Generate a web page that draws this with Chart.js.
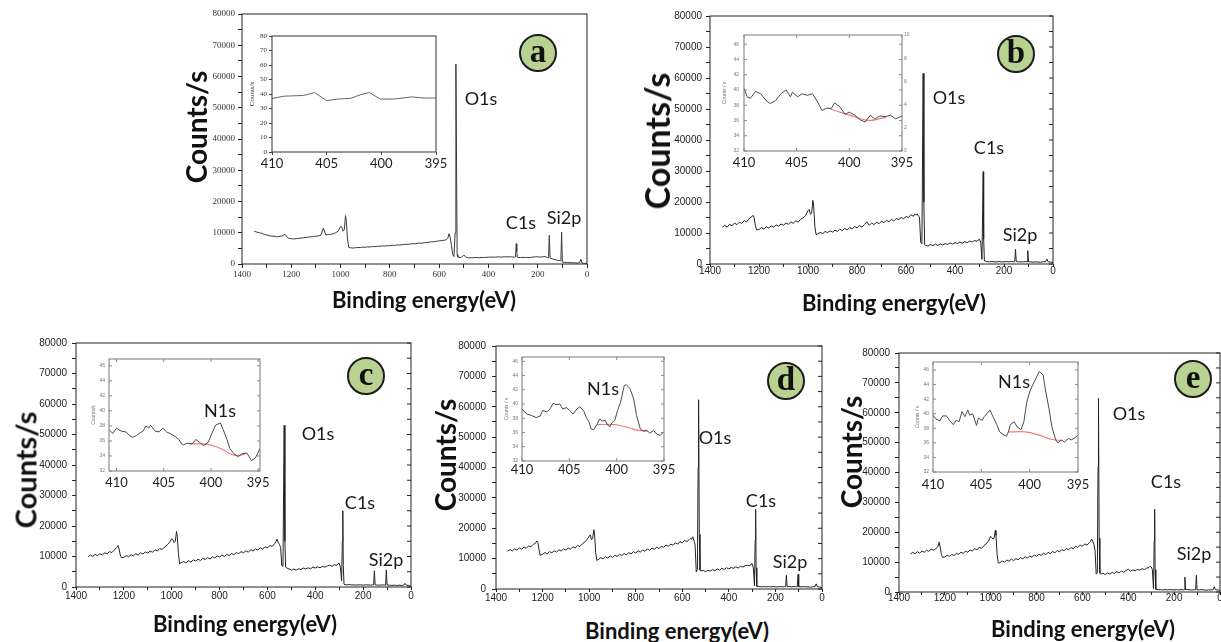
<!DOCTYPE html>
<html><head><meta charset="utf-8">
<script src="https://cdn.jsdelivr.net/npm/chart.js@4.4.1/dist/chart.umd.min.js"></script>
<style>
html,body{margin:0;padding:0;background:#fff;}
#stage{position:relative;width:1221px;height:642px;overflow:hidden;background:#fff;}
canvas{position:absolute;}
.t{position:absolute;transform:translate(-50%,-50%);white-space:nowrap;font-family:Lato,'Open Sans',sans-serif;color:#111;line-height:1;}
.yt{font-weight:700;transform:translate(-50%,-50%) rotate(-90deg);}
.xt{font-weight:700;}
.pk{font-size:18px;color:#1a1a1a;}
.badge{position:absolute;width:34px;height:34px;border-radius:50%;background:#b9d191;border:2px solid #1c1c1c;transform:translate(-50%,-50%);display:flex;align-items:center;justify-content:center;font-family:'Liberation Serif','DejaVu Serif',serif;font-weight:700;font-size:33px;line-height:1;color:#111;}
.badge span{display:block;margin-top:-4px;}
</style></head><body><div id="stage"></div>
<script>
// ---------- shared binding-energy grid (eV) ----------
const energy = [1350,1340,1330,1320,1310,1300,1290,1280,1270,1260,1250,1240,
1230,1225,1220,1215,1210,
1200,1190,1180,1170,1160,1150,1140,1130,1120,1110,1100,1090,1080,1070,1060,1050,1040,1030,1020,1010,1000,
995,990,985,980,977,972,967,
960,950,940,930,920,910,900,890,880,870,860,850,840,830,820,810,800,790,780,770,760,750,740,730,720,710,700,690,680,670,660,650,640,630,620,610,600,590,580,570,
565,560,555,550,545,540,535,532,530,527,524,520,
510,500,490,480,470,460,450,440,430,420,410,400,390,380,370,360,350,340,330,320,310,
305,300,295,290,287,285,283,280,
270,260,250,240,230,220,210,200,190,180,170,160,
156,153,150,
140,130,120,110,
106,103,100,
90,80,70,60,50,40,30,
25,20,10,0];

const countsA = [10500,10200,10000,9800,9500,9300,9100,8900,8900,8700,8800,8900,
9300,9500,9000,8500,8200,
8100,8000,8100,8200,8300,8400,8500,8600,8700,8800,8900,9000,9200,11500,9300,9400,9500,9700,10000,10500,12000,
11800,10500,11000,15500,14000,8000,5300,
5200,5100,5200,5300,5250,5400,5350,5500,5450,5600,5550,5700,5650,5800,5750,5900,5850,6000,5950,6100,6050,6200,6300,6250,6400,6500,6450,6600,6700,6650,6800,6900,7000,7100,7150,7300,7400,7500,7600,7800,
8200,9700,8500,6000,3000,2400,10000,64000,40000,3000,2200,2100,
2100,2900,2100,2000,2000,2000,2100,2000,2100,2100,2100,2200,2200,2200,2200,2300,2200,2300,2300,2300,2300,
2300,2200,2200,2300,6500,4000,2200,2100,
2100,2100,2100,2100,2100,2200,2300,2300,2200,2300,2400,2000,
2000,9200,2000,
1600,1400,1200,1100,
1000,10200,600,
500,500,400,400,400,300,400,
1500,300,200,200];

const countsB = [11800,12500,11900,12800,12300,13200,12700,13500,13100,14000,13600,14700,
15200,15700,15000,12500,11000,
11100,11700,11300,12000,11600,12300,11900,12600,12200,12900,12500,13200,12800,13600,13100,14000,13500,14400,14900,15600,17200,
17600,16000,16500,20500,19000,12000,9500,
9700,10200,9800,10500,10100,10700,10300,10900,10500,11200,10800,11500,11000,11800,11300,12100,11600,12400,11900,12700,13600,12500,13200,12700,13500,13000,13800,13300,14100,13600,14400,13900,14700,14300,15000,14600,15300,15000,15900,15400,
16100,15800,16200,15500,15200,7000,6500,40000,61500,20000,6200,6000,
5800,6300,5900,6400,6000,6500,6100,6600,6300,6800,6400,6900,6600,7100,6700,7200,6900,7400,7100,7600,7300,
7800,8000,7000,1500,18000,29800,8000,1000,
800,700,800,700,700,800,700,700,800,700,800,700,
800,4700,800,
700,700,700,800,
700,4300,700,
700,600,700,600,600,700,800,
1600,700,600,500];

const countsC = [9900,10500,10000,10700,10300,10900,10500,11200,10900,11600,11300,12100,
13000,13600,12500,10500,9600,
9700,10300,9900,10600,10200,10900,10500,11200,10800,11500,11100,11800,11400,12200,11800,12600,12300,13100,13700,14500,15800,
15500,14600,15000,18200,17000,11000,7600,
8000,8300,7900,8600,8200,8900,8500,9100,8700,9400,9000,9600,9200,9900,9500,10200,9800,10500,10000,10700,10300,11000,10600,11300,10900,11600,11200,11900,11400,12200,11800,12500,12100,12800,12400,13200,12800,13600,13300,14200,
14800,15700,14600,14000,13000,7000,6800,35000,53000,15000,6500,6300,
5900,5500,5900,5500,6000,5700,6200,5900,6300,6000,6500,6200,6600,6300,6800,6500,6900,7100,6800,7300,7100,
7700,7800,6500,2000,15000,25000,7000,900,
700,800,700,700,600,700,700,600,700,700,600,700,
700,5300,700,
600,600,700,600,
600,5600,600,
600,500,600,500,600,500,600,
1200,600,500,300];

const countsD = [12400,13000,12500,13200,12800,13500,13100,13800,13400,14200,13900,14700,
15100,15800,15300,12800,11100,
11400,12000,11600,12300,11900,12600,12200,12900,12500,13200,12800,13500,13100,13900,13500,14300,14000,14800,15400,16200,17300,
17800,16200,16600,19500,18500,12000,9400,
9700,10300,9900,10600,10200,10900,10400,11100,10700,11400,11000,11700,11200,12000,11500,12300,11800,12600,12100,12900,12400,13200,12700,13500,13000,13800,13300,14100,13700,14500,14000,14800,14400,15200,14800,15600,15200,16000,15600,16300,
16700,16400,17200,16000,14500,5600,6500,40000,62300,18000,6200,6000,
6100,5700,6200,5900,6400,6000,6600,6200,6800,6400,7000,6600,7100,6800,7300,6900,7500,7200,7700,7800,7600,
8200,8300,7000,1000,16000,26200,7000,900,
800,700,800,700,800,700,800,700,700,800,700,800,
800,4500,800,
800,700,800,700,
800,4800,700,
700,800,700,700,600,700,800,
1700,800,600,500];

const countsE = [12700,13300,12800,13500,13000,13700,13300,14000,13600,14300,14000,14500,
15200,16700,14800,12600,11600,
11700,12300,11900,12600,12200,12900,12600,13300,12900,13700,13300,14100,13700,14500,14100,15000,14600,15500,16100,17000,18600,
18200,17700,18000,20600,19000,12500,9700,
9800,10400,10000,10700,10300,11000,10500,11200,10800,11500,11100,11800,11300,12100,11600,12400,11900,12700,12200,13000,12500,13300,12800,13600,13100,13900,13400,14200,13800,14600,14100,14900,14500,15300,14900,15700,15300,16100,15700,16500,
16900,17700,17000,16000,14000,6000,6500,42000,64800,18000,6300,6000,
6300,5800,6400,6000,6600,6200,6800,6400,7000,6600,7200,7600,7000,7400,7100,7600,7300,7800,7500,8000,8200,
8600,8400,7500,1000,17000,27700,7500,900,
800,800,700,800,700,800,800,700,800,700,800,700,
800,5000,800,
800,700,700,800,
700,5600,700,
700,800,700,600,700,700,800,
1800,800,700,600];

// ---------- N1s region insets ----------
const insetXTicks = [410,405,400,395];
const insetATicks = [0,10,20,30,40,50,60,70,80];
const insetNTicks = [32,34,36,38,40,42,44,46];
const insetBRightTicks = [0,2,4,6,8,10];

const insetAX = [410,408.9,407.1,406.1,405.0,404.0,402.8,401.9,401.1,400.1,398.9,397.2,396.1,395.0];
const insetAY = [36.9,38.5,39.0,41.0,35.4,36.5,37.0,39.5,41.0,36.5,36.5,38.0,37.2,37.2];

const insetBX = [410.0,409.7,409.4,408.9,408.4,407.9,407.5,407.0,406.5,406.0,405.6,405.4,404.9,404.5,404.0,403.5,403.0,402.6,402.2,401.7,401.4,400.9,400.4,400.0,399.5,399.0,398.5,398.0,397.6,397.1,396.6,396.1,395.6,395.0];
const insetBY = [40.2,39.1,38.9,39.8,39.5,38.6,38.2,38.6,39.5,40.0,39.1,39.7,39.1,39.5,39.3,39.5,38.4,37.3,37.6,37.6,38.3,37.8,36.8,37.1,36.7,36.1,35.8,36.7,36.2,36.6,36.5,36.7,36.2,36.6];
const baseBX = [402.0,400.7,399.5,398.2,396.9,396.5];
const baseBY = [37.6,37.0,36.5,36.0,36.3,36.4];

const insetCX = [410.8,410.4,410.0,409.5,409.0,408.6,408.3,407.9,407.6,407.2,406.9,406.6,406.4,405.9,405.5,405.1,404.7,404.2,403.7,403.4,403.1,402.9,402.5,402.0,401.6,401.2,400.8,400.3,399.9,399.5,399.0,398.7,398.3,398.0,397.5,397.1,396.7,396.2,395.7,395.3,394.8];
const insetCY = [37.5,37.0,37.7,37.3,37.2,36.7,36.5,36.7,37.0,37.3,38.0,37.7,38.1,37.3,37.2,37.7,37.2,36.9,36.5,36.2,35.6,35.5,35.7,35.6,36.2,35.8,35.4,35.8,37.0,38.1,38.4,37.5,36.2,35.0,34.2,33.9,34.3,34.4,33.4,33.7,35.0];
const baseCX = [402.3,400.9,399.9,398.8,397.8,396.9,396.3];
const baseCY = [35.6,35.6,35.4,34.9,34.2,34.1,34.3];

const insetDX = [410.0,409.5,409.0,408.5,408.1,407.8,407.4,407.1,406.7,406.4,406.0,405.7,405.3,405.0,404.6,404.2,403.9,403.5,403.2,402.9,402.7,402.4,402.1,401.8,401.5,401.2,401.0,400.7,400.5,400.2,399.9,399.6,399.2,399.0,398.6,398.2,397.9,397.5,397.2,396.8,396.5,396.1,395.8,395.4,395.0];
const insetDY = [39.3,38.6,38.4,38.1,38.3,39.1,38.9,39.2,40.1,39.9,40.0,39.3,39.5,39.1,38.6,39.3,39.6,39.1,38.1,37.4,36.5,36.4,37.1,37.9,37.6,37.7,37.1,36.8,37.4,37.7,39.1,40.2,42.6,42.7,42.2,40.7,38.4,36.5,36.2,36.3,35.9,36.3,35.8,35.6,36.1];
const baseDX = [402.1,400.2,398.8,397.7,396.7];
const baseDY = [37.1,37.1,36.7,36.3,36.2];

const insetEX = [410.0,409.7,409.3,409.0,408.6,408.3,407.9,407.6,407.3,407.0,406.7,406.4,406.2,405.9,405.5,405.3,404.9,404.7,404.1,403.8,403.4,403.1,402.8,402.4,402.2,402.0,401.6,401.3,400.9,400.6,400.3,400.0,399.7,399.3,399.0,398.6,398.4,398.0,397.7,397.3,397.1,396.7,396.4,396.0,395.7,395.3,395.0];
const insetEY = [39.8,39.3,39.0,39.7,39.7,39.1,38.5,39.1,38.9,40.3,39.6,40.5,39.8,40.0,38.4,39.4,39.1,39.6,40.5,39.6,38.5,37.5,37.2,36.9,37.5,38.5,38.9,38.2,37.8,38.9,41.6,43.0,43.9,45.0,45.8,45.3,43.5,40.7,38.2,36.4,36.0,36.4,36.1,36.6,36.4,36.7,37.1];
const baseEX = [402.2,400.5,399.1,397.8,396.6];
const baseEY = [37.5,37.5,37.1,36.5,36.3];

// ---------- rendering ----------
const stage = document.getElementById('stage');
Chart.defaults.font.family = "'Liberation Sans', Arial, sans-serif";
Chart.defaults.animation = false;

const framePlugin = {
  id: 'frame',
  afterDraw(chart, args, o) {
    if (!o || !o.color) return;
    const {ctx, chartArea: a} = chart;
    ctx.save();
    ctx.strokeStyle = o.color; ctx.lineWidth = o.width;
    ctx.strokeRect(a.left, a.top, a.right - a.left, a.bottom - a.top);
    ctx.strokeStyle = o.tickColor || o.color; ctx.lineWidth = 1;
    ctx.beginPath();
    (o.sides || []).forEach(side => {
      const sc = (side === 'left' || side === 'right') ? chart.scales.y : chart.scales.x;
      sc.ticks.forEach(t => {
        const p = sc.getPixelForValue(t.value);
        const len = o.len;
        if (side === 'right') { ctx.moveTo(a.right, p); ctx.lineTo(a.right - len, p); }
        if (side === 'left') { ctx.moveTo(a.left, p); ctx.lineTo(a.left + len, p); }
        if (side === 'top') { ctx.moveTo(p, a.top); ctx.lineTo(p, a.top + len); }
        if (side === 'bottom') { ctx.moveTo(p, a.bottom); ctx.lineTo(p, a.bottom - len); }
      });
    });
    ctx.stroke();
    ctx.restore();
  }
};

function makeCanvas(x, y, w, h) {
  const c = document.createElement('canvas');
  c.width = w; c.height = h;
  c.style.left = x + 'px'; c.style.top = y + 'px';
  c.style.width = w + 'px'; c.style.height = h + 'px';
  stage.appendChild(c);
  return c;
}

function mainChart(p) {
  const padL = 60, padT = 8, padR = 10, padB = 24;
  const w = p.R - p.L + padL + padR, h = p.B - p.T + padT + padB;
  const cv = makeCanvas(p.L - padL, p.T - padT, w, h);
  new Chart(cv, {
    type: 'line',
    data: { datasets: [{ data: energy.map((e, i) => ({ x: e, y: p.counts[i] })),
      borderColor: p.lineColor, borderWidth: 1, pointRadius: 0, tension: 0, fill: false }] },
    options: {
      responsive: false, animation: false,
      layout: { padding: { top: padT, right: padR, left: 0, bottom: 0 } },
      plugins: { legend: { display: false }, tooltip: { enabled: false },
        frame: { color: '#222', width: 1, sides: p.inSides, len: 4 } },
      scales: {
        x: { type: 'linear', reverse: true, min: 0, max: 1400,
          afterFit(s) { s.height = padB; s.paddingLeft = 0; s.paddingRight = 0; },
          ticks: { stepSize: 100, autoSkip: false, maxRotation: 0, padding: p.xPad, color: p.tickColor, font: p.tickFont,
            callback: v => (v % 200 === 0 ? String(v) : '') },
          grid: { drawOnChartArea: false, tickLength: p.xTickLen, color: '#222', lineWidth: 1 },
          border: { display: false } },
        y: { min: 0, max: 80000,
          afterFit(s) { s.width = padL; s.paddingTop = 0; s.paddingBottom = 0; },
          ticks: { stepSize: 5000, autoSkip: false, padding: p.yPad, color: p.tickColor, font: p.tickFont,
            callback: v => (v % 10000 === 0 ? String(v) : '') },
          grid: { drawOnChartArea: false, tickLength: 4, color: '#222', lineWidth: 1 },
          border: { display: false } }
      }
    },
    plugins: [framePlugin]
  });
}

function insetChart(o) {
  const pl = o.padL, pr = o.padR, pt = 5, pb = 26;
  const w = o.R - o.L + pl + pr, h = o.B - o.T + pt + pb;
  const cv = makeCanvas(o.L - pl, o.T - pt, w, h);
  const ds = [{ data: o.x.map((v, i) => ({ x: v, y: o.y[i] })), borderColor: o.lineColor, borderWidth: 1,
    pointRadius: 0, tension: 0, fill: false }];
  if (o.rx) ds.push({ data: o.rx.map((v, i) => ({ x: v, y: o.ry[i] })), borderColor: '#f37b7b', borderWidth: 1.2,
    pointRadius: 0, tension: 0.4, fill: false });
  const scales = {
    x: { type: 'linear', reverse: true, min: o.xmin, max: o.xmax,
      afterBuildTicks(s) { s.ticks = insetXTicks.map(v => ({ value: v })); },
      afterFit(s) { s.height = pb; s.paddingLeft = 0; s.paddingRight = 0; },
      ticks: { autoSkip: false, maxRotation: 0, padding: o.xPad, color: '#1e1e1e',
        font: { family: 'Lato', size: 13 }, callback: v => String(v) },
      grid: { display: o.outTicks, drawOnChartArea: false, drawTicks: o.outTicks, tickLength: 3, color: '#444' },
      border: { display: false } },
    y: { min: o.ymin, max: o.ymax,
      afterBuildTicks(s) { s.ticks = o.yTicks.map(v => ({ value: v })); },
      afterFit(s) { s.width = pl; s.paddingTop = 0; s.paddingBottom = 0; },
      ticks: { autoSkip: false, padding: o.yPad, color: o.tickColor, font: o.yFont, callback: v => String(v) },
      title: { display: true, text: o.yTitle, color: o.tickColor, font: o.yFont, padding: 0 },
      grid: { display: o.outTicks, drawOnChartArea: false, drawTicks: o.outTicks, tickLength: 3, color: '#444' },
      border: { display: false } }
  };
  let rightPad = pr;
  if (o.rightTicks) {
    scales.y2 = { position: 'right', min: 0, max: 10,
      afterBuildTicks(s) { s.ticks = o.rightTicks.map(v => ({ value: v })); },
      afterFit(s) { s.width = 9; s.paddingTop = 0; s.paddingBottom = 0; },
      ticks: { autoSkip: false, padding: 2, color: o.tickColor, font: o.yFont, callback: v => String(v) },
      grid: { display: false, drawTicks: false }, border: { display: false } };
    rightPad = pr - 9;
  }
  new Chart(cv, {
    type: 'line',
    data: { datasets: ds },
    options: {
      responsive: false, animation: false,
      layout: { padding: { top: pt, right: rightPad, left: 0, bottom: 0 } },
      plugins: { legend: { display: false }, tooltip: { enabled: false },
        frame: { color: o.frameColor, width: 1, sides: o.inSides, len: 3, tickColor: '#888' } },
      scales
    },
    plugins: [framePlugin]
  });
}

// main survey spectra
const sans10 = { family: "'Liberation Sans', Arial, sans-serif", size: 10 };
mainChart({ counts: countsA, L: 242, T: 14, R: 587, B: 264, lineColor: '#3a3a3a', tickColor: '#333',
  tickFont: { family: "'Liberation Serif', 'DejaVu Serif', serif", size: 9 }, xPad: 1, xTickLen: 4, yPad: 3, inSides: [] });
mainChart({ counts: countsB, L: 710, T: 16, R: 1053, B: 264, lineColor: '#222', tickColor: '#222',
  tickFont: sans10, xPad: -2, xTickLen: 3, yPad: 4, inSides: ['right'] });
mainChart({ counts: countsC, L: 76, T: 343, R: 411, B: 587, lineColor: '#222', tickColor: '#222',
  tickFont: sans10, xPad: 0, xTickLen: 3, yPad: 5, inSides: ['right'] });
mainChart({ counts: countsD, L: 496, T: 346, R: 822, B: 589, lineColor: '#222', tickColor: '#222',
  tickFont: sans10, xPad: 0, xTickLen: 3, yPad: 6, inSides: ['right'] });
mainChart({ counts: countsE, L: 899, T: 353, R: 1220, B: 592, lineColor: '#222', tickColor: '#222',
  tickFont: sans10, xPad: -3, xTickLen: 3, yPad: 5, inSides: ['right'] });

// insets
const tiny = { family: "'Liberation Sans', Arial, sans-serif", size: 5 };
insetChart({ x: insetAX, y: insetAY, L: 272, T: 36, R: 436, B: 152, xmin: 395, xmax: 410, ymin: 0, ymax: 80,
  yTicks: insetATicks, padL: 24, padR: 14, xPad: 1, yPad: 2, outTicks: true, lineColor: '#666', frameColor: '#333',
  tickColor: '#333', yFont: { family: "'Liberation Serif', 'DejaVu Serif', serif", size: 7 }, yTitle: 'Counts/s', inSides: [] });
insetChart({ x: insetBX, y: insetBY, rx: baseBX, ry: baseBY, L: 744, T: 35, R: 902, B: 151, xmin: 395, xmax: 410,
  ymin: 32, ymax: 47.2, yTicks: insetNTicks, rightTicks: insetBRightTicks, padL: 22, padR: 16, xPad: 4, yPad: 5,
  outTicks: false, lineColor: '#4a4a4a', frameColor: '#777', tickColor: '#777', yFont: tiny, yTitle: 'Counts / s',
  inSides: ['left', 'right', 'top', 'bottom'] });
insetChart({ x: insetCX, y: insetCY, rx: baseCX, ry: baseCY, L: 109, T: 359, R: 260, B: 471, xmin: 394.8, xmax: 410.8,
  ymin: 32, ymax: 46.9, yTicks: insetNTicks, padL: 18, padR: 14, xPad: 4, yPad: 4,
  outTicks: false, lineColor: '#4a4a4a', frameColor: '#777', tickColor: '#777', yFont: tiny, yTitle: 'Counts/s',
  inSides: ['left', 'right', 'top', 'bottom'] });
insetChart({ x: insetDX, y: insetDY, rx: baseDX, ry: baseDY, L: 522, T: 357, R: 664, B: 461, xmin: 395, xmax: 410,
  ymin: 32, ymax: 46.6, yTicks: insetNTicks, padL: 18, padR: 14, xPad: 1, yPad: 4,
  outTicks: false, lineColor: '#4a4a4a', frameColor: '#777', tickColor: '#777', yFont: tiny, yTitle: 'Counts / s',
  inSides: ['left', 'right', 'top', 'bottom'] });
insetChart({ x: insetEX, y: insetEY, rx: baseEX, ry: baseEY, L: 933, T: 362, R: 1078, B: 472, xmin: 395, xmax: 410,
  ymin: 32, ymax: 47.1, yTicks: insetNTicks, padL: 18, padR: 14, xPad: 5, yPad: 4,
  outTicks: false, lineColor: '#4a4a4a', frameColor: '#777', tickColor: '#777', yFont: tiny, yTitle: 'Counts / s',
  inSides: ['left', 'right', 'top', 'bottom'] });

// ---------- text annotations ----------
function addText(txt, cls, x, y, size) {
  const d = document.createElement('div');
  d.className = 't ' + cls;
  d.textContent = txt;
  d.style.left = x + 'px'; d.style.top = y + 'px';
  if (size) d.style.fontSize = size + 'px';
  stage.appendChild(d);
}
function addBadge(letter, x, y) {
  const d = document.createElement('div');
  d.className = 'badge';
  d.style.left = x + 'px'; d.style.top = y + 'px';
  const s = document.createElement('span'); s.textContent = letter; d.appendChild(s);
  stage.appendChild(d);
}
const yTitles = [[196, 127, 28], [657, 141, 34], [25, 470, 29], [445, 455, 28], [851, 452, 28]];
yTitles.forEach(([x, y, s]) => addText('Counts/s', 'yt', x, y, s));
const xTitles = [[424, 300, 22], [894, 303, 22], [245, 624, 22], [677, 631, 22], [1083, 629, 22]];
xTitles.forEach(([x, y, s]) => addText('Binding energy(eV)', 'xt', x, y, s));
const peaks = [
  ['O1s', 481, 98], ['C1s', 521, 222], ['Si2p', 564, 217],
  ['O1s', 949, 97], ['C1s', 989, 147], ['Si2p', 1020, 234],
  ['O1s', 318, 433], ['C1s', 360, 502], ['Si2p', 386, 559], ['N1s', 220, 410],
  ['O1s', 715, 437], ['C1s', 761, 500], ['Si2p', 790, 561], ['N1s', 603, 388],
  ['O1s', 1129, 413], ['C1s', 1166, 481], ['Si2p', 1194, 553], ['N1s', 1014, 381]
];
peaks.forEach(([t, x, y]) => addText(t, 'pk', x, y));
[['a', 538, 53], ['b', 1016, 54], ['c', 366, 376], ['d', 786, 381], ['e', 1193, 379]]
  .forEach(([l, x, y]) => addBadge(l, x, y));
</script>
</body></html>
